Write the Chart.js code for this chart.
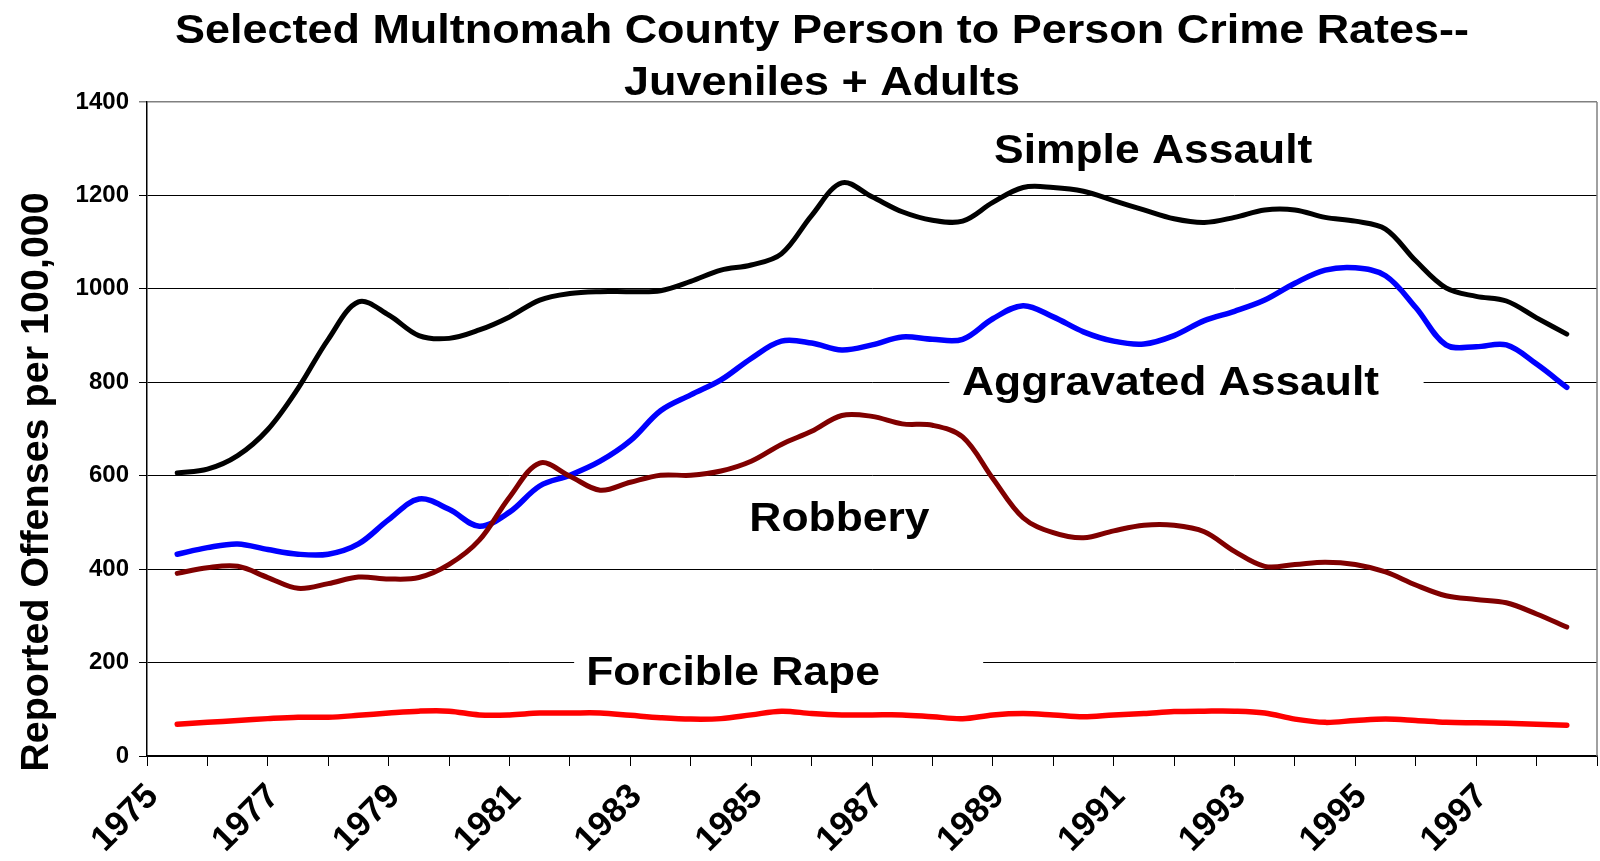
<!DOCTYPE html>
<html>
<head>
<meta charset="utf-8">
<title>Multnomah County Person to Person Crime Rates</title>
<script src="https://cdn.jsdelivr.net/npm/chart.js@4.4.0/dist/chart.umd.min.js"></script>
<style>
  html, body { margin: 0; padding: 0; background: #fff; }
  #wrap { width: 1600px; height: 861px; }
</style>
</head>
<body>
<div id="wrap"><canvas id="chart" width="1600" height="861"></canvas></div>
<script>
// half-year points
const years = [1975.5, 1976, 1976.5, 1977, 1977.5, 1978, 1978.5, 1979, 1979.5, 1980,
  1980.5, 1981, 1981.5, 1982, 1982.5, 1983, 1983.5, 1984, 1984.5, 1985,
  1985.5, 1986, 1986.5, 1987, 1987.5, 1988, 1988.5, 1989, 1989.5, 1990,
  1990.5, 1991, 1991.5, 1992, 1992.5, 1993, 1993.5, 1994, 1994.5, 1995,
  1995.5, 1996, 1996.5, 1997, 1997.5, 1998, 1998.5];

const simpleAssault = [606, 614, 643, 699, 787, 892, 972, 944, 900, 894,
  912, 940, 976, 990, 994, 994, 996, 1016, 1040, 1051,
  1075, 1157, 1227, 1197, 1165, 1147, 1145, 1185, 1217, 1217,
  1209, 1189, 1169, 1150, 1142, 1153, 1169, 1169, 1153, 1145,
  1128, 1060, 1002, 984, 974, 938, 903];

const aggravatedAssault = [432, 446, 454, 442, 432, 432, 454, 506, 550, 528,
  492, 522, 578, 601, 631, 675, 739, 773, 805, 851,
  888, 884, 869, 880, 897, 892, 892, 936, 964, 940,
  908, 888, 882, 900, 932, 952, 976, 1012, 1040, 1045,
  1028, 960, 880, 876, 880, 839, 789];

const robbery = [391, 403, 406, 382, 359, 369, 383, 379, 382, 410,
  462, 554, 627, 599, 569, 586, 601, 601, 610, 631,
  667, 695, 729, 727, 711, 708, 683, 594, 510, 478,
  467, 482, 494, 494, 480, 438, 406, 410, 415, 410,
  394, 366, 343, 335, 328, 304, 276];

const forcibleRape = [68, 72, 76, 80, 83, 83, 87, 92, 96, 96,
  88, 88, 92, 92, 92, 87, 82, 79, 80, 88,
  96, 91, 88, 88, 88, 84, 80, 88, 91, 88,
  84, 88, 91, 95, 96, 96, 92, 79, 72, 76,
  79, 76, 72, 71, 70, 68, 66];

const titleLines = ['Selected Multnomah County Person to Person Crime Rates--', 'Juveniles + Adults'];
const yAxisTitle = 'Reported Offenses per 100,000';

// labels sitting in the plot (position in data units: year, value)
const seriesLabels = [
  { text: 'Simple Assault',     year: 1989.02, value: 1269, box: null },
  { text: 'Aggravated Assault', year: 1988.49, value: 773,  box: [1988.28, 1996.13, 885, 745] },
  { text: 'Robbery',            year: 1984.97, value: 482,  box: null },
  { text: 'Forcible Rape',      year: 1982.27, value: 152,  box: [1982.07, 1988.84, 255, 135] }
];

const FONT = "'Liberation Sans', Arial, sans-serif";
Chart.defaults.font.family = FONT;
Chart.defaults.color = '#000';

function stretchText(ctx, text, x, y, sx, align) {
  ctx.save();
  ctx.translate(x, y);
  ctx.scale(sx, 1);
  ctx.textAlign = align;
  ctx.textBaseline = 'alphabetic';
  ctx.fillText(text, 0, 0);
  ctx.restore();
}

const overlay = {
  id: 'overlay',
  beforeDraw(chart) {
    const ctx = chart.ctx;
    ctx.save();
    ctx.fillStyle = '#fff';
    ctx.fillRect(0, 0, chart.width, chart.height);
    ctx.restore();
  },
  beforeDatasetsDraw(chart) {
    const ctx = chart.ctx;
    const { x, y } = chart.scales;
    const area = chart.chartArea;
    ctx.save();
    // right border of the plot box
    ctx.strokeStyle = '#808080';
    ctx.lineWidth = 1.5;
    ctx.beginPath();
    ctx.moveTo(area.right, area.top);
    ctx.lineTo(area.right, area.bottom);
    ctx.stroke();
    // white boxes behind labels (they cut the grid lines)
    ctx.fillStyle = '#fff';
    seriesLabels.forEach(l => {
      if (!l.box) return;
      const x0 = x.getPixelForValue(l.box[0]);
      const x1 = x.getPixelForValue(l.box[1]);
      const y0 = y.getPixelForValue(l.box[2]);
      const y1 = y.getPixelForValue(l.box[3]);
      ctx.fillRect(x0, y0, x1 - x0, y1 - y0);
    });
    ctx.restore();
  },
  afterDatasetsDraw(chart) {
    const ctx = chart.ctx;
    const { x, y } = chart.scales;
    ctx.save();
    ctx.fillStyle = '#000';
    ctx.font = 'bold 40px ' + FONT;
    seriesLabels.forEach(l => {
      stretchText(ctx, l.text, x.getPixelForValue(l.year), y.getPixelForValue(l.value), 1.11, 'left');
    });

    // title
    ctx.font = 'bold 40px ' + FONT;
    stretchText(ctx, titleLines[0], 822, 43, 1.124, 'center');
    stretchText(ctx, titleLines[1], 822, 95, 1.124, 'center');

    // y axis title
    ctx.font = 'bold 39.5px ' + FONT;
    ctx.translate(48, 482);
    ctx.rotate(-Math.PI / 2);
    ctx.textAlign = 'center';
    ctx.textBaseline = 'alphabetic';
    ctx.fillText(yAxisTitle, 0, 0);
    ctx.restore();
  }
};

function series(label, values, color, width) {
  return {
    label,
    data: years.map((yr, i) => ({ x: yr, y: values[i] })),
    borderColor: color,
    backgroundColor: color,
    borderWidth: width,
    pointRadius: 0,
    tension: 0.35,
    borderCapStyle: 'round',
    borderJoinStyle: 'round',
    fill: false
  };
}

new Chart(document.getElementById('chart').getContext('2d'), {
  type: 'line',
  data: {
    datasets: [
      series('Simple Assault', simpleAssault, '#000000', 5),
      series('Robbery', robbery, '#800000', 5),
      series('Aggravated Assault', aggravatedAssault, '#0000FF', 5.5),
      series('Forcible Rape', forcibleRape, '#FF0000', 5.5)
    ]
  },
  options: {
    responsive: false,
    animation: false,
    devicePixelRatio: 1,
    layout: { padding: { top: 102, right: 3, left: 0, bottom: 0 } },
    plugins: {
      legend: { display: false },
      title: { display: false },
      tooltip: { enabled: false }
    },
    scales: {
      x: {
        type: 'linear',
        min: 1975,
        max: 1999,
        afterFit: s => {
          s.height = 105;
          // the rotated labels should not shrink the plot box
          s.paddingLeft = 0;
          s.paddingRight = 0;
        },
        grid: { display: true, drawOnChartArea: false, drawTicks: true, tickLength: 10, color: '#000', lineWidth: 1 },
        border: { display: true, color: '#000', width: 1.5 },
        ticks: {
          stepSize: 1,
          autoSkip: false,
          minRotation: 45,
          maxRotation: 45,
          padding: 10,
          labelOffset: 6,
          color: '#000',
          font: { size: 35, weight: 'bold' },
          callback: v => {
            const yr = Math.round(v);
            return (yr % 2 === 1 && yr < 1999) ? String(yr) : '';
          }
        }
      },
      y: {
        min: 0,
        max: 1400,
        afterFit: s => { s.width = 147; },
        grid: {
          color: c => (c.tick && c.tick.value === 1400) ? '#808080' : '#000',
          lineWidth: c => (c.tick && c.tick.value === 1400) ? 1.5 : 1,
          tickLength: 8
        },
        border: { display: true, color: '#000', width: 1.5 },
        ticks: {
          stepSize: 200,
          padding: 10,
          color: '#000',
          font: { size: 24, weight: 'bold' },
          callback: v => String(v)
        }
      }
    }
  },
  plugins: [overlay]
});
</script>
</body>
</html>
